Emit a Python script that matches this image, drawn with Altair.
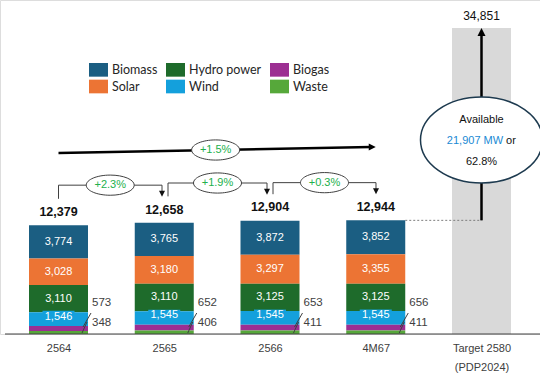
import json
import altair as alt
import pandas as pd

# ---------------- data ----------------
years = ["2564", "2565", "2566", "4M67"]
target_label = ["Target 2580", "(PDP2024)"]
biomass = [3774, 3765, 3872, 3852]
solar = [3028, 3180, 3297, 3355]
hydro = [3110, 3110, 3125, 3125]
wind = [1546, 1545, 1545, 1545]
biogas = [573, 652, 653, 656]
waste = [348, 406, 411, 411]
totals = [12379, 12658, 12904, 12944]
target_total = 34851
growth = ["+2.3%", "+1.9%", "+0.3%"]
growth_overall = "+1.5%"
available_lines = ["Available", "21,907 MW", " or", "62.8%"]

# legend is filled column by column (2 rows)
legend_order = ["Biomass", "Solar", "Hydro power", "Wind", "Biogas", "Waste"]
legend_colors = ["#1b5e82", "#ec7434", "#1e6b2b", "#14a0dc", "#9c2f92", "#56a83a"]
stack_order = {"Waste": 0, "Biogas": 1, "Wind": 2, "Hydro power": 3, "Solar": 4, "Biomass": 5}

# ---------------- geometry ----------------
W, H, PAD_B = 540, 334, 40
X0, X1 = -0.5532, 4.5532
Y1 = 38041.0
KX = W / (X1 - X0)
KY = H / Y1


def dx(px):
    return px / KX


def dy(px):
    return px / KY


HW = dx(29.5)
FONT = "Liberation Sans"

xscale = alt.Scale(domain=[X0, X1], nice=False, zero=False)
yscale = alt.Scale(domain=[0, Y1], nice=False, zero=False)
cats = years + [target_label]
xaxis = alt.Axis(values=[0, 1, 2, 3, 4], labelExpr=f"{json.dumps(cats)}[datum.value]",
                 domain=False, ticks=False, grid=False, labelPadding=8, labelFontSize=11,
                 labelColor="#404040", labelFont=FONT, title=None, labelLineHeight=19,
                 labelFlush=False, labelOverlap=False)


def X(f):
    return alt.X(f, type="quantitative", scale=xscale, axis=xaxis)


def Y(f):
    return alt.Y(f, type="quantitative", scale=yscale, axis=None)


# ---------------- tables ----------------
rows = []
for i, yr in enumerate(years):
    for name, arr in [("Biomass", biomass), ("Solar", solar), ("Hydro power", hydro),
                      ("Wind", wind), ("Biogas", biogas), ("Waste", waste)]:
        rows.append(dict(idx=i, year=yr, source=name, value=arr[i], order=stack_order[name]))
df = pd.DataFrame(rows)

base = alt.Chart(df).transform_stack(
    stack="value", groupby=["idx"], as_=["y0", "y1"],
    sort=[alt.SortField("order", order="ascending")]
).transform_calculate(
    xl=f"datum.idx - {HW}", xr=f"datum.idx + {HW}",
    mid=f"(datum.y0 + datum.y1) / 2 + (datum.source == 'Wind' ? {dy(2.5)} : 0)",
)

bars = base.mark_rect().encode(
    x=X("xl"), x2="xr", y=Y("y0"), y2="y1",
    color=alt.Color("source:N", scale=alt.Scale(domain=legend_order, range=legend_colors),
                    legend=alt.Legend(orient="none", legendX=89, legendY=60, columns=3,
                                      symbolType="M-1,-0.72H1V0.72H-1Z", symbolSize=361,
                                      symbolStrokeWidth=0, labelFont="Lato", labelFontSize=12.5,
                                      labelColor="#262626", title=None, columnPadding=8,
                                      rowPadding=0, labelOffset=4, padding=0)),
)

wind_bg = base.transform_filter("datum.source == 'Wind'").transform_calculate(
    bx1=f"datum.idx - {dx(16)}", bx2=f"datum.idx + {dx(16)}",
    by1=f"datum.mid - {dy(5.8)}", by2=f"datum.mid + {dy(5.8)}",
).mark_rect(color="#14a0dc").encode(x=X("bx1"), x2="bx2", y=Y("by1"), y2="by2")

seg_text = base.transform_filter(
    "indexof(['Biomass','Solar','Hydro power','Wind'], datum.source) >= 0"
).mark_text(font=FONT, fontSize=11, color="white", baseline="middle").encode(
    x=X("idx"), y=Y("mid"), text=alt.Text("value:Q", format=",")
)

# small values outside the bars
small_rows = []
for i in range(len(years)):
    small_rows.append(dict(idx=i, value=biogas[i], yl=dy(31)))
    small_rows.append(dict(idx=i, value=waste[i], yl=dy(11.5)))
df_small = pd.DataFrame(small_rows)
small_text = alt.Chart(df_small).transform_calculate(
    xl=f"datum.idx + {HW + dx(4)}"
).mark_text(font=FONT, fontSize=11.5, color="#404040", align="left", baseline="middle").encode(
    x=X("xl"), y=Y("yl"), text=alt.Text("value:Q", format=",")
)

lead_rows = []
for i in range(len(years)):
    r = i + HW
    lead_rows.append(dict(x=r + dx(3), y=dy(21), x2=r - dx(5), y2=dy(7)))
    lead_rows.append(dict(x=r - dx(1), y=dy(12), x2=r - dx(6), y2=dy(1)))
leaders = alt.Chart(pd.DataFrame(lead_rows)).mark_rule(color="#404040", strokeWidth=1).encode(
    x=X("x"), y=Y("y"), x2="x2", y2="y2")

# totals
df_tot = pd.DataFrame(dict(idx=list(range(len(years))), total=totals))
tot_text = alt.Chart(df_tot).mark_text(font=FONT, fontSize=12.5, fontWeight="bold", color="#111111",
                                       baseline="middle", dy=-13.3).encode(
    x=X("idx"), y=Y("total"), text=alt.Text("total:Q", format=","))

# target bar + annotation
df_target = pd.DataFrame(dict(idx=[4], total=[target_total], prev=[totals[-1]]))
target_bar = alt.Chart(df_target).transform_calculate(
    xl=f"datum.idx - {HW}", xr=f"datum.idx + {HW}", z="0"
).mark_rect(color="#d9d9d9").encode(x=X("xl"), x2="xr", y=Y("z"), y2="total")

dotted = alt.Chart(df_target).transform_calculate(
    xl=f"datum.idx - 1 + {HW}"
).mark_rule(color="#7f7f7f", strokeDash=[2, 2], strokeWidth=1).encode(
    x=X("xl"), x2="idx", y=Y("prev"))

vline = alt.Chart(df_target).transform_calculate(
    top=f"datum.total - {dy(6)}"
).mark_rule(color="black", strokeWidth=2.5).encode(x=X("idx"), y=Y("prev"), y2="top")

up_head = alt.Chart(df_target).mark_point(shape="M0,0L-1,2L1,2Z", size=64, filled=True,
                                          color="black", opacity=1).encode(x=X("idx"), y=Y("total"))

ELL_C = dy(194)
big_ell = alt.Chart(df_target).transform_calculate(ey=f"{ELL_C}").mark_point(
    shape="M-1,0A1,0.705,0,1,0,1,0A1,0.705,0,1,0,-1,0Z", size=122 ** 2, filled=False,
    fill="white", fillOpacity=1, stroke="#1d3a4f", strokeWidth=1.5, opacity=1
).encode(x=X("idx"), y=Y("ey"))

target_text = alt.Chart(df_target).mark_text(font=FONT, fontSize=12, color="#111111",
                                             baseline="middle", dy=-12).encode(
    x=X("idx"), y=Y("total"), text=alt.Text("total:Q", format=","))

df_av = pd.DataFrame(dict(
    idx=[4, 4, 4, 4],
    t=available_lines,
    ty=[ELL_C + dy(20), ELL_C - dy(1), ELL_C - dy(1), ELL_C - dy(22)],
    off=[0, 21.6, 24.6, 0],
    al=["center", "right", "left", "center"],
    col=["#111111", "#1a8ad4", "#111111", "#111111"],
))
av_parts = []
for k in range(len(df_av)):
    r = df_av.iloc[[k]]
    av_parts.append(alt.Chart(r).mark_text(font=FONT, fontSize=11, baseline="middle",
                                           align=r["al"].iloc[0], color=r["col"].iloc[0],
                                           dx=float(r["off"].iloc[0])).encode(
        x=X("idx"), y=Y("ty"), text="t:N"))

# growth brackets
off_start = [0, 3.75, 3]
off_end = [-2.25, -3, 0.25]
brk_rows, head_rows, ell_rows = [], [], []
for i in range(3):
    xs = i + dx(off_start[i])
    xe = i + 1 + dx(off_end[i])
    level = totals[i + 1] + dy(37.7)
    sb = totals[i] + dy(26.5)
    tip = totals[i + 1] + dy(26)
    brk_rows += [dict(x=xs, y=sb, x2=xs, y2=level), dict(x=xs, y=level, x2=xe, y2=level),
                 dict(x=xe, y=level, x2=xe, y2=tip + dy(4))]
    head_rows.append(dict(x=xe, y=tip))
    ell_rows.append(dict(x=(xs + xe) / 2, y=level, t=growth[i]))
brackets = alt.Chart(pd.DataFrame(brk_rows)).mark_rule(color="#404040", strokeWidth=1).encode(
    x=X("x"), y=Y("y"), x2="x2", y2="y2")
heads = alt.Chart(pd.DataFrame(head_rows)).mark_point(
    shape="M0,0L-1,-2L1,-2Z", size=36, filled=True, color="#111111", opacity=1
).encode(x=X("x"), y=Y("y"))

# overall arrow
ov_y0, ov_y1 = dy(181), dy(187)
df_ov = pd.DataFrame([dict(x=0, y=ov_y0, x2=3 - dx(5), y2=ov_y1 - dy(0.1))])
ov_line = alt.Chart(df_ov).mark_rule(color="black", strokeWidth=2.5).encode(
    x=X("x"), y=Y("y"), x2="x2", y2="y2")
ov_head = alt.Chart(pd.DataFrame([dict(x=3, y=ov_y1)])).mark_point(
    shape="M0,0L-2,-1L-2,1Z", size=49, filled=True, color="black", opacity=1
).encode(x=X("x"), y=Y("y"))
ell_rows.append(dict(x=1.5 - dx(1.5), y=(ov_y0 + ov_y1) / 2, t=growth_overall))
df_ell = pd.DataFrame(ell_rows)
small_ells = alt.Chart(df_ell).mark_point(
    shape="M-1,0A1,0.42,0,1,0,1,0A1,0.42,0,1,0,-1,0Z", size=48 ** 2, filled=False,
    fill="white", fillOpacity=1, stroke="#404040", strokeWidth=1, opacity=1
).encode(x=X("x"), y=Y("y"))
ell_text = alt.Chart(df_ell).mark_text(font=FONT, fontSize=11, color="#22b04c",
                                       baseline="middle").encode(x=X("x"), y=Y("y"), text="t:N")

# baseline
df_base = pd.DataFrame([dict(x=X0 + dx(5), x2=X1, y=0)])
baseline = alt.Chart(df_base).mark_rule(color="#404040", strokeWidth=1).encode(
    x=X("x"), x2="x2", y=Y("y"))

chart = alt.layer(
    target_bar, dotted, vline, up_head, big_ell, *av_parts, target_text,
    bars, wind_bg, seg_text, leaders, small_text, tot_text,
    ov_line, ov_head, brackets, heads, small_ells, ell_text, baseline,
).properties(
    width=W, height=H, autosize=alt.AutoSizeParams(type="none"),
    padding={"left": 0, "top": 0, "right": 0, "bottom": PAD_B},
).configure_view(stroke=None).configure(background="white")

chart.save("out.html", embed_options={"renderer": "svg", "actions": False})
